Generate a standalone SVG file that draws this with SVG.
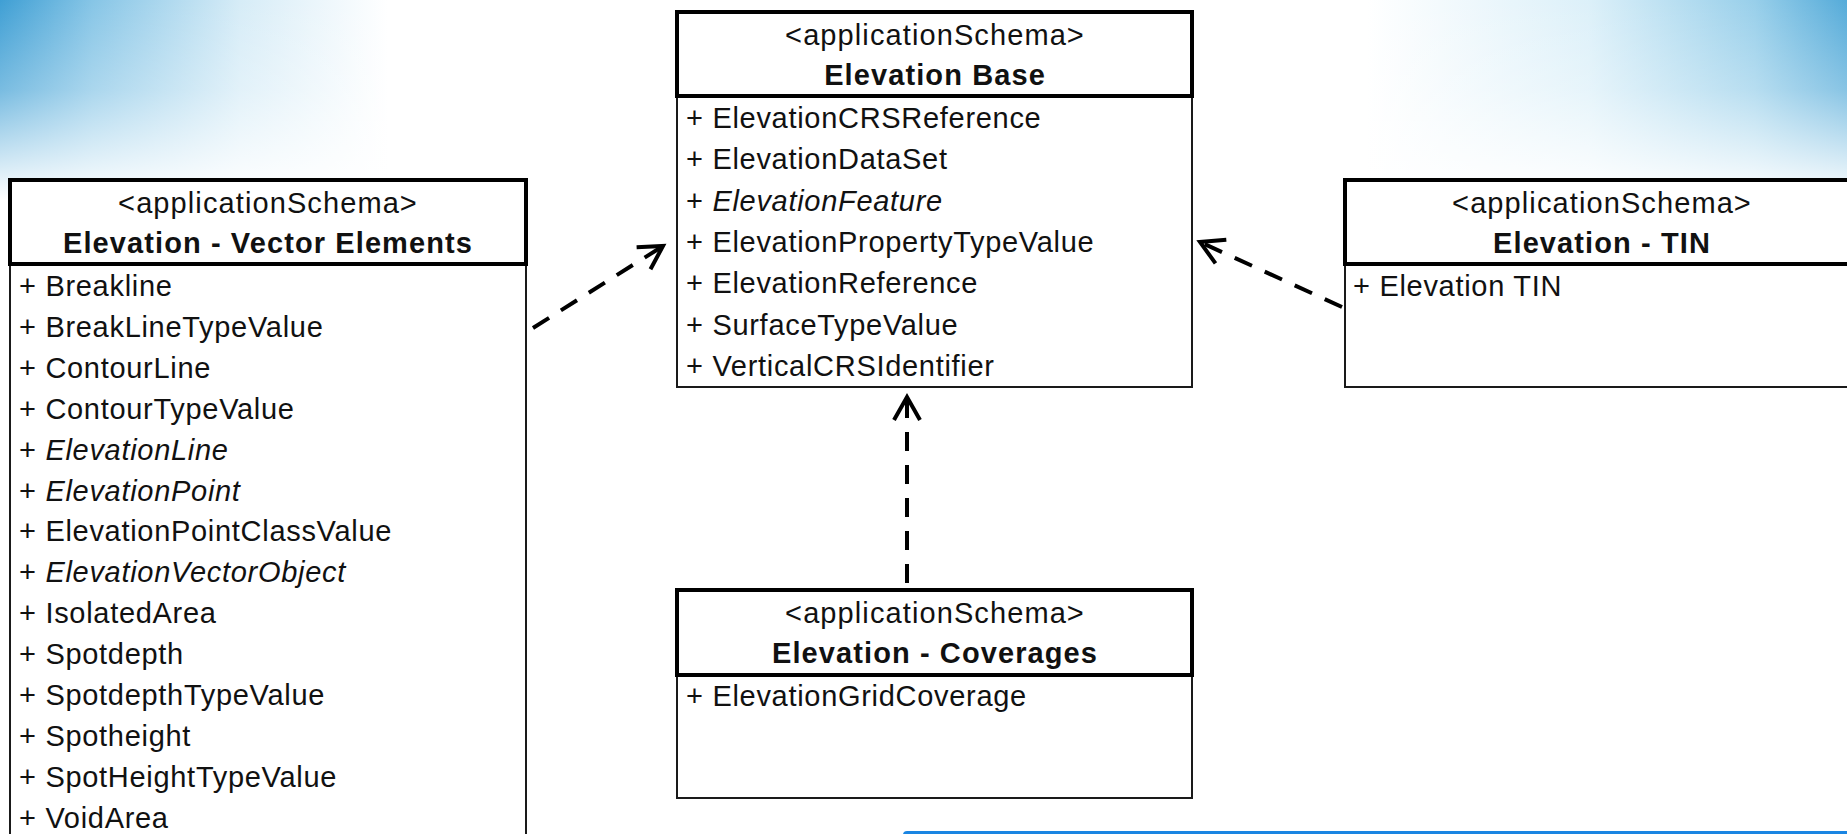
<svg xmlns="http://www.w3.org/2000/svg" width="1847" height="834" viewBox="0 0 1847 834">
  <style>
    .body { fill: #ffffff; stroke: #1a1a1a; stroke-width: 2; }
    .head { fill: #ffffff; stroke: #000000; stroke-width: 4; }
    .stereo { font-family: "Liberation Sans", Arial, sans-serif; font-size: 29px; letter-spacing: 1.1px; fill: #111; text-anchor: middle; }
    .title { font-family: "Liberation Sans", Arial, sans-serif; font-size: 29px; font-weight: bold; letter-spacing: 1.1px; fill: #111; text-anchor: middle; }
    .row { font-family: "Liberation Sans", Arial, sans-serif; font-size: 29px; letter-spacing: 0.7px; fill: #111; }
    .it { font-style: italic; }
    .dep { fill: none; stroke: #000; stroke-width: 4; stroke-dasharray: 19 14; }
  </style>
  <defs>
    <linearGradient id="bgH" x1="0" y1="0" x2="1" y2="0">
      <stop offset="0" stop-color="#3f9fd4"/>
      <stop offset="0.05" stop-color="#86c5e6"/>
      <stop offset="0.13" stop-color="#d6ecf7"/>
      <stop offset="0.21" stop-color="#ffffff"/>
      <stop offset="0.74" stop-color="#ffffff"/>
      <stop offset="0.86" stop-color="#dcf0f9"/>
      <stop offset="0.95" stop-color="#98cfea"/>
      <stop offset="1" stop-color="#55abd9"/>
    </linearGradient>
    <linearGradient id="bgV" x1="0" y1="0" x2="0" y2="1">
      <stop offset="0" stop-color="#ffffff" stop-opacity="0"/>
      <stop offset="0.45" stop-color="#ffffff" stop-opacity="0.3"/>
      <stop offset="1" stop-color="#ffffff" stop-opacity="1"/>
    </linearGradient>
    <marker id="open" markerUnits="userSpaceOnUse" markerWidth="40" markerHeight="40" viewBox="-30 -20 40 40" refX="0" refY="0" orient="auto" overflow="visible">
      <path d="M -23 -13 L 0 0 L -23 13" fill="none" stroke="#000" stroke-width="4" stroke-dasharray="none" stroke-linejoin="miter"/>
    </marker>
  </defs>

  <rect x="0" y="0" width="1847" height="834" fill="#ffffff"/>
  <rect x="0" y="0" width="1847" height="200" fill="url(#bgH)"/>
  <rect x="0" y="0" width="1847" height="200" fill="url(#bgV)"/>

  <g id="connectors">
    <path id="vector-to-base" class="dep" d="M 533 328 L 663 246" marker-end="url(#open)"/>
    <path id="tin-to-base" class="dep" d="M 1342 307 L 1200 242" marker-end="url(#open)"/>
    <path id="coverages-to-base" class="dep" d="M 907 583 L 907 397" marker-end="url(#open)"/>
  </g>

  <g id="node-base">
    <rect class="body" x="677" y="12" width="515" height="375"/>
    <rect class="head" x="677" y="12" width="515" height="84"/>
    <text class="stereo" x="935" y="45">&lt;applicationSchema&gt;</text>
    <text class="title" x="935" y="85">Elevation Base</text>
    <text class="row" x="686" y="128">+ ElevationCRSReference</text>
    <text class="row" x="686" y="169.3">+ ElevationDataSet</text>
    <text class="row" x="686" y="210.6">+ <tspan class="it">ElevationFeature</tspan></text>
    <text class="row" x="686" y="251.9">+ ElevationPropertyTypeValue</text>
    <text class="row" x="686" y="293.2">+ ElevationReference</text>
    <text class="row" x="686" y="334.5">+ SurfaceTypeValue</text>
    <text class="row" x="686" y="375.8">+ VerticalCRSIdentifier</text>
  </g>

  <g id="node-vector">
    <rect class="body" x="10" y="180" width="516" height="700"/>
    <rect class="head" x="10" y="180" width="516" height="84"/>
    <text class="stereo" x="268" y="213">&lt;applicationSchema&gt;</text>
    <text class="title" x="268" y="253">Elevation - Vector Elements</text>
    <text class="row" x="19" y="296">+ Breakline</text>
    <text class="row" x="19" y="336.9">+ BreakLineTypeValue</text>
    <text class="row" x="19" y="377.8">+ ContourLine</text>
    <text class="row" x="19" y="418.7">+ ContourTypeValue</text>
    <text class="row" x="19" y="459.6">+ <tspan class="it">ElevationLine</tspan></text>
    <text class="row" x="19" y="500.5">+ <tspan class="it">ElevationPoint</tspan></text>
    <text class="row" x="19" y="541.4">+ ElevationPointClassValue</text>
    <text class="row" x="19" y="582.3">+ <tspan class="it">ElevationVectorObject</tspan></text>
    <text class="row" x="19" y="623.2">+ IsolatedArea</text>
    <text class="row" x="19" y="664.1">+ Spotdepth</text>
    <text class="row" x="19" y="705">+ SpotdepthTypeValue</text>
    <text class="row" x="19" y="745.9">+ Spotheight</text>
    <text class="row" x="19" y="786.8">+ SpotHeightTypeValue</text>
    <text class="row" x="19" y="827.7">+ VoidArea</text>
  </g>

  <g id="node-tin">
    <rect class="body" x="1345" y="180" width="515" height="207"/>
    <rect class="head" x="1345" y="180" width="515" height="84"/>
    <text class="stereo" x="1602" y="213">&lt;applicationSchema&gt;</text>
    <text class="title" x="1602" y="253">Elevation - TIN</text>
    <text class="row" x="1353" y="296">+ Elevation TIN</text>
  </g>

  <g id="node-coverages">
    <rect class="body" x="677" y="590" width="515" height="208"/>
    <rect class="head" x="677" y="590" width="515" height="85"/>
    <text class="stereo" x="935" y="623">&lt;applicationSchema&gt;</text>
    <text class="title" x="935" y="663">Elevation - Coverages</text>
    <text class="row" x="686" y="706">+ ElevationGridCoverage</text>
  </g>

  <rect id="bottom-bar" x="903" y="831" width="960" height="20" rx="4" fill="#1a85e2"/>
</svg>
